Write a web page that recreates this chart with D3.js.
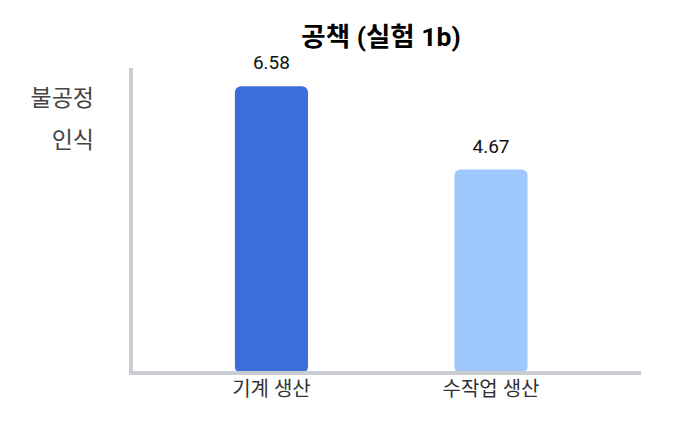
<!DOCTYPE html>
<html>
<head>
<meta charset="utf-8">
<script src="https://cdn.jsdelivr.net/npm/d3@7"></script>
<style>
  body { margin: 0; background: #fff; }
  text { font-family: Roboto, "Noto Sans CJK KR", sans-serif; }
</style>
</head>
<body>
<div id="chart"></div>
<script>
const categories = ['기계 생산', '수작업 생산'];
const values = [6.58, 4.67];
const barColors = ['#3d6dd8', '#9ec8fe'];
const title = '공책 (실험 1b)';
const yLabelLines = ['불공정', '인식'];

const W = 674, H = 422;
const margin = { top: 68, right: 33, bottom: 49, left: 131 };

const svg = d3.select('#chart').append('svg')
  .attr('width', W)
  .attr('height', H);

// scales
const x = d3.scaleBand()
  .domain(categories)
  .range([margin.left, W - margin.right])
  .paddingInner(0.667)
  .paddingOuter(0.495)
  .align(0.478);

const y = d3.scaleLinear()
  .domain([0, 7])
  .range([H - margin.bottom, margin.top]);

// bars
svg.selectAll('rect.bar')
  .data(values)
  .join('rect')
  .attr('class', 'bar')
  .attr('x', (d, i) => x(categories[i]))
  .attr('y', d => y(d))
  .attr('width', x.bandwidth())
  .attr('height', d => y(0) - y(d))
  .attr('rx', 6)
  .attr('fill', (d, i) => barColors[i]);

// value labels
svg.selectAll('text.val')
  .data(values)
  .join('text')
  .attr('class', 'val')
  .attr('x', (d, i) => x(categories[i]) + x.bandwidth() / 2)
  .attr('y', d => y(d) - 17)
  .attr('text-anchor', 'middle')
  .attr('font-size', 19)
  .attr('fill', '#111')
  .text(d => d.toFixed(2));

// axes lines
svg.append('line')
  .attr('x1', margin.left).attr('x2', margin.left)
  .attr('y1', margin.top).attr('y2', y(0) + 2)
  .attr('stroke', '#c9ccd0').attr('stroke-width', 4);

svg.append('line')
  .attr('x1', margin.left - 2).attr('x2', W - margin.right)
  .attr('y1', y(0)).attr('y2', y(0))
  .attr('stroke', '#c9ccd0').attr('stroke-width', 4);

// category labels
svg.selectAll('text.cat')
  .data(categories)
  .join('text')
  .attr('class', 'cat')
  .attr('x', d => x(d) + x.bandwidth() / 2)
  .attr('y', y(0) + 23)
  .attr('text-anchor', 'middle')
  .attr('font-size', 20)
  .attr('fill', '#333')
  .text(d => d);

// y label
svg.selectAll('text.ylab')
  .data(yLabelLines)
  .join('text')
  .attr('class', 'ylab')
  .attr('x', 94)
  .attr('y', (d, i) => 106 + i * 42)
  .attr('text-anchor', 'end')
  .attr('font-size', 23)
  .attr('fill', '#444')
  .text(d => d);

// title
svg.append('text')
  .attr('x', 381)
  .attr('y', 46)
  .attr('text-anchor', 'middle')
  .attr('font-size', 26.5)
  .attr('font-weight', 'bold')
  .attr('fill', '#000')
  .text(title);
</script>
</body>
</html>
